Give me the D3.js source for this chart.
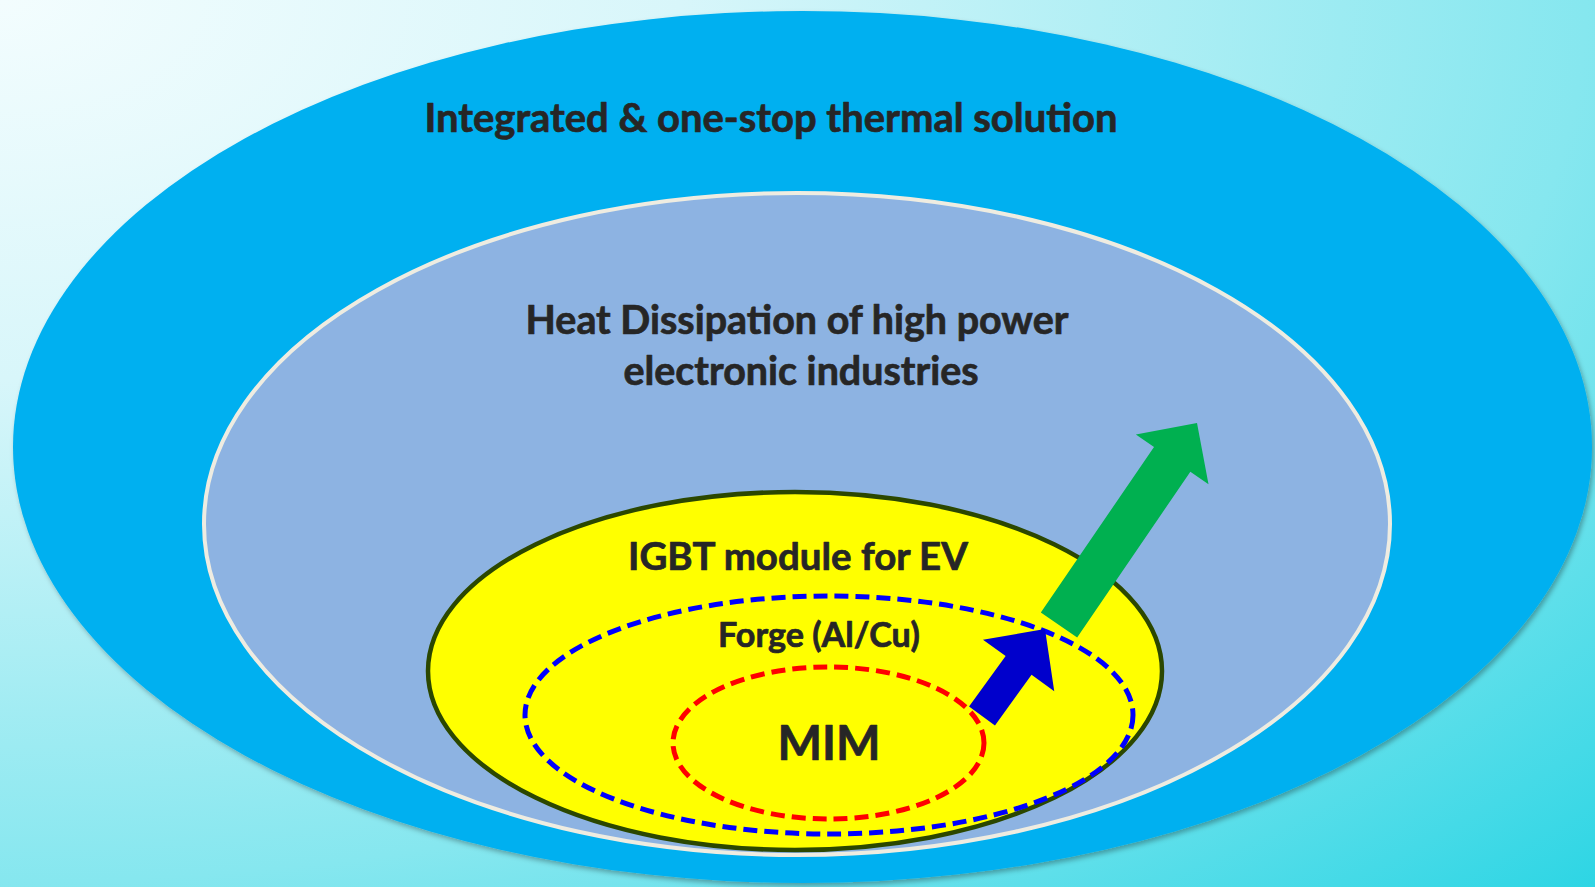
<!DOCTYPE html>
<html>
<head>
<meta charset="utf-8">
<script src="https://cdn.jsdelivr.net/npm/d3@7"></script>
<style>
  html, body { margin: 0; padding: 0; overflow: hidden; background: #fff; }
  svg { display: block; }
  text { font-family: Lato, "Open Sans", sans-serif; font-weight: bold; fill: #262626;
         stroke: #262626; stroke-width: 0.7; stroke-linejoin: round; }
</style>
</head>
<body>
<div id="chart"></div>
<script>
// Nested rings, outermost first (extents in picture units)
const ringNames = ["thermal", "power", "igbt", "forge", "mim"];
const ringX = [[13, 1592], [204, 1390], [428, 1162], [525, 1133], [673, 984]];
const ringY = [[11, 883], [193, 855], [492, 850], [596, 834], [667, 819]];

// Labels for each ring (one entry per text line)
const labelLines = [
  ["Integrated & one-stop thermal solution"],
  ["Heat Dissipation of high power", "electronic industries"],
  ["IGBT module for EV"],
  ["Forge (Al/Cu)"],
  ["MIM"],
];
const labelCenterX = [[771], [797, 801], [798], [819], [829]];
const labelBaseline = [[132], [334, 385], [570], [647], [760]];
const labelWidth = [[693], [543, 357], [340], [202], [103]];

// Growth arrows: tail centre -> tip
const arrowNames = ["toPower", "toIgbt"];
const arrowTail = [[1059, 625], [982, 716]];
const arrowTip = [[1197, 423], [1045, 629]];
const arrowShaft = [44, 32];
const arrowHeadWidth = [88, 88];
const arrowHeadLength = [44, 45];

const width = 1595;
const height = 887;

const x = d3.scaleLinear().domain([0, 1595]).range([0, width]);
const y = d3.scaleLinear().domain([0, 887]).range([0, height]);

const ringStyle = {
  thermal: { fill: "#00B0F0", stroke: "none", sw: 0, dash: null, shadow: true },
  power:   { fill: "#8DB3E2", stroke: "#EEECE1", sw: 4, dash: null, shadow: false },
  igbt:    { fill: "#FFFF00", stroke: "#2B4700", sw: 4.5, dash: null, shadow: false },
  forge:   { fill: "none", stroke: "#0000FF", sw: 5, dash: "14 7", shadow: false },
  mim:     { fill: "none", stroke: "#FF0000", sw: 5, dash: "14 7", shadow: false },
};
const arrowColor = { toPower: "#00B050", toIgbt: "#0000CC" };

const svg = d3.select("#chart").append("svg")
  .attr("width", width)
  .attr("height", height);

const defs = svg.append("defs");

// soft background wash, light at top-left
const bg = defs.append("radialGradient")
  .attr("id", "bg")
  .attr("cx", 0).attr("cy", 0).attr("r", 1.42)
  .attr("fx", 0).attr("fy", 0);
bg.append("stop").attr("offset", 0).attr("stop-color", "#F3FDFE");
bg.append("stop").attr("offset", 0.3).attr("stop-color", "#D8F6FA");
bg.append("stop").attr("offset", 0.7).attr("stop-color", "#86E7EF");
bg.append("stop").attr("offset", 1).attr("stop-color", "#2CD5E4");

defs.append("filter")
  .attr("id", "shadow")
  .attr("x", "-5%").attr("y", "-5%").attr("width", "110%").attr("height", "110%")
  .append("feDropShadow")
  .attr("dx", 2).attr("dy", 3).attr("stdDeviation", 2.5)
  .attr("flood-color", "#000").attr("flood-opacity", 0.3);

svg.append("rect")
  .attr("width", width)
  .attr("height", height)
  .attr("fill", "url(#bg)");

const rings = ringNames.map((name, i) => ({
  name,
  cx: (x(ringX[i][0]) + x(ringX[i][1])) / 2,
  cy: (y(ringY[i][0]) + y(ringY[i][1])) / 2,
  rx: (x(ringX[i][1]) - x(ringX[i][0])) / 2,
  ry: (y(ringY[i][1]) - y(ringY[i][0])) / 2,
}));

svg.append("g")
  .attr("class", "rings")
  .selectAll("ellipse")
  .data(rings)
  .join("ellipse")
  .attr("cx", d => d.cx)
  .attr("cy", d => d.cy)
  .attr("rx", d => d.rx)
  .attr("ry", d => d.ry)
  .attr("fill", d => ringStyle[d.name].fill)
  .attr("stroke", d => ringStyle[d.name].stroke)
  .attr("stroke-width", d => ringStyle[d.name].sw)
  .attr("stroke-dasharray", d => ringStyle[d.name].dash)
  .attr("filter", d => ringStyle[d.name].shadow ? "url(#shadow)" : null);

// block arrow outline from tail, tip, shaft and head sizes
function arrowPoints(i) {
  const t0 = [x(arrowTail[i][0]), y(arrowTail[i][1])];
  const t1 = [x(arrowTip[i][0]), y(arrowTip[i][1])];
  const len = Math.hypot(t1[0] - t0[0], t1[1] - t0[1]);
  const u = [(t1[0] - t0[0]) / len, (t1[1] - t0[1]) / len];
  const n = [-u[1], u[0]];
  const s = arrowShaft[i] / 2, h = arrowHeadWidth[i] / 2;
  const base = [t1[0] - u[0] * arrowHeadLength[i], t1[1] - u[1] * arrowHeadLength[i]];
  const at = (p, k) => [p[0] + n[0] * k, p[1] + n[1] * k];
  return [at(t0, s), at(base, s), at(base, h), t1, at(base, -h), at(base, -s), at(t0, -s)];
}

svg.append("g")
  .attr("class", "arrows")
  .selectAll("polygon")
  .data(arrowNames)
  .join("polygon")
  .attr("points", (d, i) => arrowPoints(i).map(p => p.join(",")).join(" "))
  .attr("fill", d => arrowColor[d]);

// labels: size each block so its longest line spans the measured width
const labels = svg.append("g").attr("class", "labels");
labelLines.forEach((lines, i) => {
  const g = labels.append("g");
  const texts = g.selectAll("text")
    .data(lines)
    .join("text")
    .attr("text-anchor", "middle")
    .attr("x", (d, j) => x(labelCenterX[i][j]))
    .attr("y", (d, j) => y(labelBaseline[i][j]))
    .attr("font-size", 40)
    .text(d => d);

  let ratio = Infinity;
  texts.each(function (d, j) {
    const w = this.getComputedTextLength();
    ratio = Math.min(ratio, (x(labelWidth[i][j]) - x(0)) / w);
  });
  texts.attr("font-size", 40 * ratio);
});
</script>
</body>
</html>
